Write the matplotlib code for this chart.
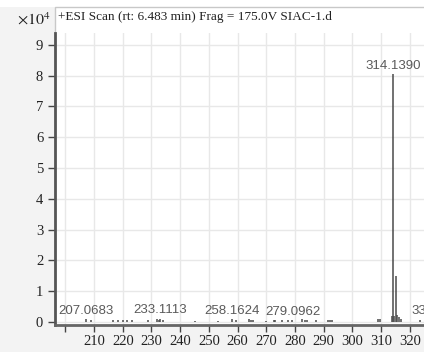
import numpy as np
import matplotlib.pyplot as plt
from matplotlib.patches import Rectangle

# Espectro de masas (+ESI), intensidades en cuentas
mz = [207.07, 209.0, 216.6, 218.4, 220.1, 221.5, 223.3, 228.9, 232.0, 232.7,
      233.11, 234.1, 245.0, 253.0, 258.16, 259.6, 263.8, 264.5, 265.2, 269.8,
      272.6, 273.0, 275.4, 277.5, 279.1, 282.4, 283.3, 284.0, 287.2, 291.3,
      292.0, 292.7, 308.8, 309.5, 313.9, 314.14, 314.6, 315.14, 315.6, 316.1,
      317.0, 323.6, 330.1]
intensidad = [1000, 700, 500, 600, 700, 500, 600, 500, 1000, 600,
              1100, 500, 300, 400, 800, 600, 800, 500, 700, 400,
              600, 500, 600, 700, 700, 900, 700, 600, 500, 500,
              600, 500, 800, 900, 2000, 80500, 1800, 14800, 2200, 1600,
              1000, 700, 900]

etiquetas = {207.07: '207.0683', 233.11: '233.1113', 258.16: '258.1624',
             279.1: '279.0962', 314.14: '314.1390', 330.1: '330.1334'}

ticks_x = np.arange(200, 330, 10)
ticks_y = np.arange(0, 10)

plt.rcParams['mathtext.fontset'] = 'stix'

fig = plt.figure(figsize=(4.24, 3.64), dpi=100, facecolor='white')

# fondo gris del panel y recuadro blanco del gráfico
fig.patches.append(Rectangle((0, 12 / 364), 1, 345 / 364, transform=fig.transFigure,
                             facecolor='#f3f3f3', edgecolor='none', zorder=-3))
fig.patches.append(Rectangle((55 / 424, 39 / 364), 1, 318 / 364, transform=fig.transFigure,
                             facecolor='white', edgecolor='#c8c8c8', lw=1, zorder=-2))

ax = fig.add_axes([55 / 424, 39 / 364, 1 - 55 / 424, 292 / 364])
ax.set_facecolor('white')

escala = 1e4
y = np.array(intensidad) / escala
ax.vlines(mz, 0, y, color='#4a4a4a', lw=1.1, zorder=3)

for m, h in zip(mz, y):
    if m in etiquetas:
        ax.annotate(etiquetas[m], (m, max(h, 0.05)), xytext=(0, 1.5), textcoords='offset points',
                    ha='center', va='bottom', color='#5a5a5a', fontsize=9.5,
                    family='Liberation Sans', annotation_clip=False)

ax.set_xlim(196.4, 324.9)
ax.set_ylim(-0.1, 9.38)
ax.set_xticks(ticks_x)
ax.set_xticklabels([''] + [str(t) for t in ticks_x[1:]])
ax.set_yticks(ticks_y)
ax.set_yticklabels([str(t) for t in ticks_y])
ax.grid(color='#e8e8e8', lw=1)
ax.set_axisbelow(True)

for s in ['top', 'right']:
    ax.spines[s].set_visible(False)
ax.spines['left'].set_color('#555555')
ax.spines['left'].set_linewidth(2)
ax.spines['bottom'].set_color('#666666')
ax.spines['bottom'].set_linewidth(2)
ax.tick_params(axis='both', direction='out', length=5, width=1, color='#444444',
               labelsize=10.5, labelcolor='#222222')
for lab in ax.get_xticklabels() + ax.get_yticklabels():
    lab.set_family('Liberation Serif')
ax.tick_params(axis='x', pad=2)

fig.text(58 / 424, 1 - 17 / 364, '+ESI Scan (rt: 6.483 min) Frag = 175.0V SIAC-1.d',
         family='Liberation Serif', fontsize=9.5, va='center', ha='left', color='#222222')
fig.text(17 / 424, 1 - 19 / 364, r'$\times 10^4$', fontsize=11.5, va='center', ha='left',
         color='#222222')

fig.savefig('out.png', dpi=100, facecolor=fig.get_facecolor())
